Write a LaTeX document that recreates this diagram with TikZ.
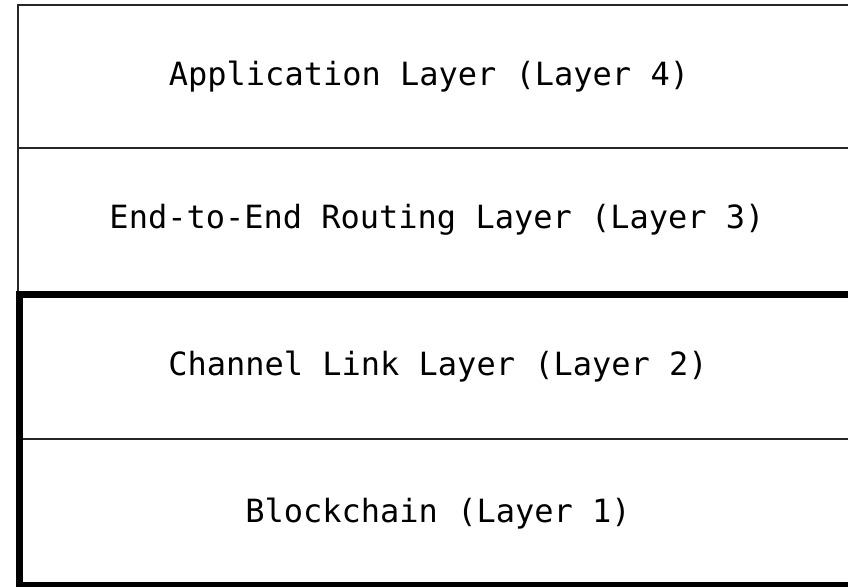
\documentclass[tikz,border=0pt]{standalone}
\usepackage{fontspec}
\setmonofont{DejaVu Sans Mono}
\begin{document}
\begin{tikzpicture}[x=1pt,y=1pt,
  thinline/.style={draw=black!85,line width=1.8pt},
  thickline/.style={draw=black,line width=7.5pt},
  layertext/.style={font=\ttfamily\fontsize{32}{38}\selectfont,inner sep=0pt,anchor=center}]
\useasboundingbox (0,0) rectangle (848,586);
\clip (0,0) rectangle (848,586);
% thin frame lines (y measured from the bottom)
\draw[thinline] (18,291) -- (18,581) -- (860,581);
\draw[thinline] (18,438) -- (860,438);
\draw[thinline] (19.5,147) -- (860,147);
% thick box around layers 1 and 2
\draw[thickline] (870,291.5) -- (19.5,291.5) -- (19.5,0.5) -- (870,0.5);
% texts
\node[layertext] (l4) at (429,509) {Application Layer (Layer 4)};
\node[layertext] (l3) at (437,366) {End-to-End Routing Layer (Layer 3)};
\node[layertext] (l2) at (438,219) {Channel Link Layer (Layer 2)};
\node[layertext] (l1) at (438,72) {Blockchain (Layer 1)};
\end{tikzpicture}
\end{document}
